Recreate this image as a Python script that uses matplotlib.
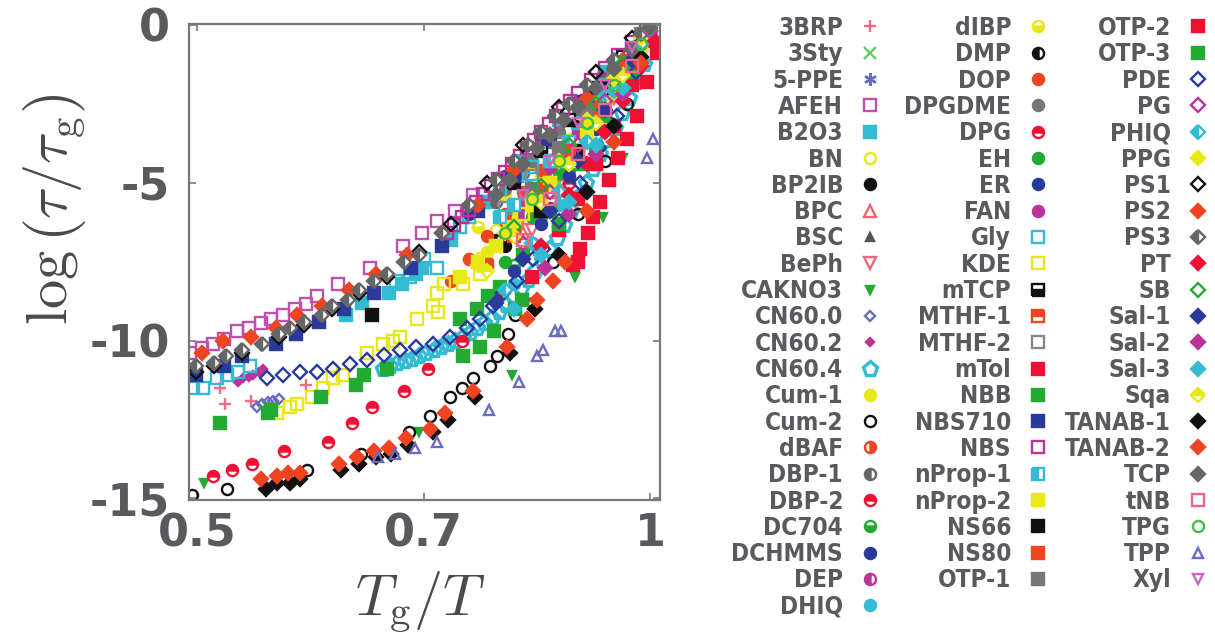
import matplotlib
matplotlib.use("Agg")
import matplotlib.pyplot as plt

plt.rcParams['mathtext.fontset'] = 'cm'

GRAY = '#595a5e'
LEGEND_FONT = ['Liberation Sans Narrow', 'DejaVu Sans']
TICK_FONT = ['DejaVu Sans']

names = [
    '3BRP', '3Sty', '5-PPE', 'AFEH', 'B2O3', 'BN', 'BP2IB', 'BPC', 'BSC',
    'BePh', 'CAKNO3', 'CN60.0', 'CN60.2', 'CN60.4', 'Cum-1', 'Cum-2', 'dBAF',
    'DBP-1', 'DBP-2', 'DC704', 'DCHMMS', 'DEP', 'DHIQ',
    'dIBP', 'DMP', 'DOP', 'DPGDME', 'DPG', 'EH', 'ER', 'FAN', 'Gly', 'KDE',
    'mTCP', 'MTHF-1', 'MTHF-2', 'mTol', 'NBB', 'NBS710', 'NBS', 'nProp-1',
    'nProp-2', 'NS66', 'NS80', 'OTP-1',
    'OTP-2', 'OTP-3', 'PDE', 'PG', 'PHIQ', 'PPG', 'PS1', 'PS2', 'PS3', 'PT',
    'SB', 'Sal-1', 'Sal-2', 'Sal-3', 'Sqa', 'TANAB-1', 'TANAB-2', 'TCP', 'tNB',
    'TPG', 'TPP', 'Xyl',
]

# Tg/T values
x_vals = {
    '3BRP': [0.525, 0.531, 0.56, 0.62, 0.86, 0.9, 0.94, 0.97, 1.0],
    '3Sty': [0.9, 0.93, 0.96, 0.985, 1.008],
    '5-PPE': [0.88, 0.91, 0.94, 0.97, 1.0],
    'AFEH': [0.492, 0.505, 0.518, 0.53, 0.544, 0.557, 0.57, 0.582, 0.595,
             0.608, 0.62, 0.632, 0.655, 0.691, 0.727, 0.748, 0.765, 0.785,
             0.805],
    'B2O3': [0.664, 0.682, 0.712, 0.726, 0.742, 0.748, 0.78, 0.82, 0.86,
             0.9, 0.95, 1.0],
    'BN': [0.8, 0.83, 0.86, 0.89, 0.92, 0.95, 0.98, 1.0],
    'BP2IB': [0.84, 0.87, 0.9, 0.93, 0.96, 0.99],
    'BPC': [0.86, 0.89, 0.92, 0.95, 0.98, 1.0],
    'BSC': [0.85, 0.88, 0.91, 0.94, 0.97, 1.0],
    'BePh': [0.87, 0.9, 0.93, 0.96, 0.99],
    'CAKNO3': [0.508, 0.745, 0.848, 0.917, 0.948, 0.97, 0.99],
    'CN60.0': [0.566, 0.572, 0.578, 0.584, 0.59],
    'CN60.2': [0.545, 0.551, 0.557, 0.562, 0.568, 0.573],
    'CN60.4': [0.705, 0.713, 0.721, 0.729, 0.737, 0.745, 0.753, 0.761, 0.769,
               0.777, 0.785, 0.793, 0.801, 0.809, 0.817, 0.825, 0.833, 0.841,
               0.849, 0.857, 0.865, 0.873, 0.881, 0.889, 0.897, 0.905, 0.913,
               0.921, 0.929, 0.937, 0.945, 0.953, 0.961, 0.969, 0.977, 0.985,
               0.993],
    'Cum-1': [0.82, 0.85, 0.88, 0.91, 0.94, 0.97, 1.0],
    'Cum-2': [0.494, 0.533, 0.621, 0.681, 0.734, 0.757, 0.779, 0.792, 0.805,
              0.823, 0.831, 0.843, 0.851, 0.871, 0.893, 0.92, 0.95, 0.975,
              1.0],
    'dBAF': [0.84, 0.87, 0.9, 0.93, 0.96, 0.99],
    'DBP-1': [0.83, 0.86, 0.89, 0.92, 0.95, 0.98],
    'DBP-2': [0.86, 0.89, 0.92, 0.95, 0.98],
    'DC704': [0.85, 0.88, 0.91, 0.94, 0.97, 1.0],
    'DCHMMS': [0.8, 0.84, 0.88, 0.92, 0.96, 1.0],
    'DEP': [0.86, 0.89, 0.92, 0.95, 0.98],
    'DHIQ': [0.85, 0.875, 0.9, 0.925, 0.95, 0.975, 1.0],
    'dIBP': [0.81, 0.84, 0.87, 0.9, 0.93, 0.96, 0.99],
    'DMP': [0.83, 0.86, 0.89, 0.92, 0.95, 0.98],
    'DOP': [0.78, 0.8, 0.82, 0.84, 0.86, 0.88, 0.9, 0.93, 0.96, 0.99],
    'DPGDME': [0.84, 0.87, 0.9, 0.93, 0.96, 0.99],
    'DPG': [0.517, 0.539, 0.561, 0.596, 0.645, 0.671, 0.693, 0.728, 0.755,
            0.792, 0.83, 0.87, 0.91, 0.95, 0.99],
    'EH': [0.84, 0.87, 0.9, 0.93, 0.96, 0.99],
    'ER': [0.85, 0.88, 0.91, 0.94, 0.97, 1.0],
    'FAN': [0.86, 0.89, 0.92, 0.95, 0.98],
    'Gly': [0.495, 0.507, 0.522, 0.533, 0.545, 0.558, 0.72, 0.735, 0.75,
            0.765, 0.78, 0.79, 0.8, 0.816, 0.834, 0.853, 0.87, 0.89, 0.92,
            0.95, 0.98],
    'KDE': [0.588, 0.603, 0.61, 0.627, 0.639, 0.65, 0.661, 0.688, 0.705,
            0.716, 0.724, 0.743, 0.76, 0.765, 0.766, 0.772, 0.794, 0.812,
            0.816, 0.83, 0.845, 0.86, 0.875, 0.89, 0.92, 0.95, 0.98],
    'mTCP': [0.85, 0.88, 0.91, 0.94, 0.97, 1.0],
    'MTHF-1': [0.82, 0.85, 0.88, 0.91, 0.94, 0.97],
    'MTHF-2': [0.84, 0.87, 0.9, 0.93, 0.96, 0.99],
    'mTol': [0.87, 0.9, 0.92, 0.94, 0.96, 0.98, 1.0],
    'NBB': [0.525, 0.578, 0.582, 0.637, 0.675, 0.684, 0.71, 0.79, 0.809,
            0.821, 0.834, 0.86, 0.89, 0.92, 0.95, 0.98],
    'NBS710': [0.499, 0.53, 0.55, 0.587, 0.609, 0.635, 0.662, 0.695, 0.736,
               0.77, 0.81, 0.85, 0.89, 0.93, 0.97, 1.0],
    'NBS': [0.776, 0.784, 0.792, 0.8, 0.808, 0.816, 0.824, 0.832, 0.84,
            0.848, 0.856, 0.864, 0.872, 0.88, 0.888, 0.896, 0.904, 0.912,
            0.92, 0.935, 0.95, 0.965, 0.98, 0.995],
    'nProp-1': [0.834, 0.85, 0.87, 0.89, 0.91, 0.93, 0.95, 0.97, 0.99],
    'nProp-2': [0.79, 0.81, 0.83, 0.85, 0.87, 0.89, 0.91, 0.93, 0.96, 0.99],
    'NS66': [0.693, 0.88, 0.92, 0.96, 1.0],
    'NS80': [0.85, 0.88, 0.91, 0.94, 0.97, 1.0],
    'OTP-1': [0.87, 0.9, 0.93, 0.96, 0.99],
    'OTP-2': [0.915, 0.92, 0.923, 0.932, 0.937, 0.945, 0.955, 0.965, 0.975,
              0.986, 0.997, 1.008],
    'OTP-3': [0.794, 0.812, 0.828, 0.851, 0.859, 0.9, 0.94, 0.98],
    'PDE': [0.577, 0.595, 0.614, 0.632, 0.65, 0.669, 0.688, 0.706, 0.724,
            0.742, 0.76, 0.779, 0.798, 0.812, 0.827, 0.838, 0.853, 0.871,
            0.882, 0.9, 0.923, 0.944, 0.964, 0.985, 1.0],
    'PG': [0.86, 0.89, 0.92, 0.95, 0.98],
    'PHIQ': [0.84, 0.87, 0.9, 0.93, 0.96, 0.99],
    'PPG': [0.81, 0.84, 0.87, 0.9, 0.93, 0.96, 0.99],
    'PS1': [0.499, 0.519, 0.55, 0.59, 0.618, 0.649, 0.679, 0.71, 0.745,
            0.78, 0.82, 0.86, 0.9, 0.94, 0.98],
    'PS2': [0.505, 0.528, 0.56, 0.587, 0.61, 0.638, 0.668, 0.698, 0.732,
            0.77, 0.81, 0.85, 0.89, 0.93, 0.97],
    'PS3': [0.499, 0.519, 0.532, 0.55, 0.572, 0.59, 0.602, 0.618, 0.638,
            0.649, 0.666, 0.679, 0.695, 0.71, 0.728, 0.745, 0.77, 0.8, 0.83,
            0.85, 0.865, 0.88, 0.895, 0.91, 0.93, 0.96, 0.99],
    'PT': [0.88, 0.91, 0.93, 0.95, 0.97, 0.99, 1.005],
    'SB': [0.85, 0.88, 0.91, 0.94, 0.97, 1.0],
    'Sal-1': [0.83, 0.86, 0.89, 0.92, 0.95, 0.98],
    'Sal-2': [0.884, 0.91, 0.94, 0.97, 1.0],
    'Sal-3': [0.85, 0.88, 0.91, 0.94, 0.97, 1.0],
    'Sqa': [0.82, 0.85, 0.88, 0.91, 0.94, 0.97, 1.0],
    'TANAB-1': [0.576, 0.588, 0.602, 0.614, 0.659, 0.679, 0.697, 0.714,
                0.733, 0.76, 0.777, 0.807, 0.845, 0.873, 0.9, 0.93, 0.96,
                0.99],
    'TANAB-2': [0.571, 0.588, 0.6, 0.613, 0.657, 0.677, 0.695, 0.712, 0.731,
                0.757, 0.774, 0.804, 0.842, 0.864, 0.875, 0.893, 0.906, 0.93,
                0.96, 0.99],
    'TCP': [0.83, 0.845, 0.86, 0.875, 0.89, 0.905, 0.92, 0.94, 0.96, 0.98,
            1.0],
    'tNB': [0.86, 0.89, 0.92, 0.95, 0.98],
    'TPG': [0.84, 0.87, 0.9, 0.93, 0.96, 0.99],
    'TPP': [0.7, 0.718, 0.741, 0.765, 0.822, 0.855, 0.875, 0.882, 0.895,
            0.902, 0.997, 1.003],
    'Xyl': [0.86, 0.89, 0.92, 0.95, 0.98],
}

# log(tau/tau_g) values
y_vals = {
    '3BRP': [-11.5, -12.0, -11.9, -11.4, -6.3, -4.4, -2.6, -1.4, 0.0],
    '3Sty': [-5.0, -3.6, -2.2, -1.0, -0.5],
    '5-PPE': [-5.6, -4.1, -2.8, -1.5, 0.0],
    'AFEH': [-10.4, -10.25, -10.1, -9.95, -9.7, -9.6, -9.45, -9.3, -9.2,
             -9.0, -8.85, -8.6, -8.2, -7.7, -7.0, -6.6, -6.2, -5.9, -5.4],
    'B2O3': [-9.2, -8.8, -8.5, -8.2, -7.9, -7.7, -6.8, -5.6, -4.3, -3.0,
             -1.5, 0.0],
    'BN': [-7.4, -6.5, -5.5, -4.5, -3.4, -2.3, -1.1, 0.0],
    'BP2IB': [-7.0, -5.8, -4.5, -3.2, -1.9, -0.6],
    'BPC': [-6.6, -5.3, -4.0, -2.6, -1.2, 0.0],
    'BSC': [-6.1, -4.9, -3.7, -2.5, -1.3, 0.0],
    'BePh': [-6.5, -5.1, -3.7, -2.3, -0.8],
    'CAKNO3': [-14.5, -12.9, -11.1, -8.0, -6.1, -4.2, -1.8],
    'CN60.0': [-12.1, -12.0, -11.95, -11.9, -11.85],
    'CN60.2': [-11.3, -11.2, -11.15, -11.1, -11.0, -10.9],
    'CN60.4': [-10.9, -10.8, -10.72, -10.65, -10.57, -10.48, -10.4, -10.3,
               -10.2, -10.1, -10.0, -9.88, -9.75, -9.6, -9.45, -9.28, -9.1,
               -8.88, -8.6, -8.35, -8.08, -7.8, -7.45, -7.1, -6.75, -6.35,
               -5.9, -5.45, -5.0, -4.55, -4.1, -3.65, -3.25, -2.8, -2.3, -1.8,
               -1.25],
    'Cum-1': [-7.2, -6.0, -4.8, -3.6, -2.4, -1.2, 0.0],
    'Cum-2': [-14.9, -14.7, -14.1, -13.6, -12.9, -12.4, -11.8, -11.5, -11.2,
              -10.8, -10.5, -9.8, -9.2, -8.8, -7.5, -6.0, -4.3, -2.5, -0.3],
    'dBAF': [-6.2, -5.2, -4.0, -2.9, -1.7, -0.5],
    'DBP-1': [-5.6, -4.7, -3.7, -2.7, -1.7, -0.7],
    'DBP-2': [-7.3, -5.8, -4.3, -2.8, -1.3],
    'DC704': [-7.6, -6.1, -4.6, -3.2, -1.7, -0.1],
    'DCHMMS': [-6.0, -4.8, -3.6, -2.4, -1.2, 0.0],
    'DEP': [-6.0, -4.7, -3.4, -2.1, -0.9],
    'DHIQ': [-8.2, -7.0, -5.7, -4.4, -3.0, -1.5, 0.0],
    'dIBP': [-6.4, -5.4, -4.4, -3.4, -2.4, -1.4, -0.4],
    'DMP': [-6.8, -5.6, -4.4, -3.2, -2.0, -0.8],
    'DOP': [-8.1, -7.4, -6.7, -6.0, -5.3, -4.6, -3.9, -2.9, -1.8, -0.6],
    'DPGDME': [-5.2, -4.3, -3.4, -2.4, -1.5, -0.5],
    'DPG': [-14.3, -14.1, -13.9, -13.5, -13.2, -12.6, -12.1, -11.6, -10.9,
            -10.0, -8.6, -6.9, -5.0, -3.0, -0.8],
    'EH': [-7.5, -6.1, -4.7, -3.3, -2.0, -0.6],
    'ER': [-7.8, -6.3, -4.8, -3.3, -1.7, -0.1],
    'FAN': [-5.7, -4.5, -3.3, -2.1, -0.9],
    'Gly': [-11.5, -11.5, -11.2, -11.1, -11.0, -10.8, -8.1, -8.0, -7.4,
            -7.7, -6.6, -6.4, -6.1, -5.6, -5.2, -4.8, -4.5, -4.3, -3.1, -1.9,
            -0.8],
    'KDE': [-12.3, -12.1, -12.0, -11.8, -11.5, -11.2, -11.1, -10.4, -10.1,
            -10.0, -9.9, -9.3, -8.9, -8.5, -9.1, -8.2, -8.2, -7.9, -7.4, -7.0,
            -6.5, -6.0, -5.5, -5.0, -3.8, -2.5, -1.1],
    'mTCP': [-5.0, -4.0, -3.0, -2.0, -1.0, 0.0],
    'MTHF-1': [-7.6, -6.4, -5.2, -3.9, -2.6, -1.3],
    'MTHF-2': [-5.8, -4.8, -3.7, -2.6, -1.5, -0.4],
    'mTol': [-8.0, -6.5, -5.5, -4.4, -3.2, -1.9, -0.5],
    'NBB': [-12.6, -12.3, -12.2, -11.8, -11.4, -11.1, -10.9, -9.3, -9.0,
            -8.6, -8.3, -7.3, -5.9, -4.4, -2.9, -1.3],
    'NBS710': [-11.1, -10.8, -10.5, -10.1, -9.8, -9.4, -9.0, -8.5, -7.7,
               -7.0, -5.9, -4.8, -3.6, -2.4, -1.2, -0.1],
    'NBS': [-6.6, -6.35, -6.1, -5.85, -5.6, -5.35, -5.1, -4.88, -4.65, -4.4,
            -4.15, -3.9, -3.65, -3.4, -3.15, -2.9, -2.65, -2.4, -2.15, -1.75,
            -1.35, -0.95, -0.55, -0.15],
    'nProp-1': [-6.1, -5.7, -5.1, -4.3, -3.7, -3.0, -2.2, -1.4, -0.5],
    'nProp-2': [-8.0, -7.5, -7.0, -6.4, -5.7, -5.0, -4.3, -3.5, -2.2, -0.7],
    'NS66': [-9.2, -5.9, -4.0, -2.0, 0.0],
    'NS80': [-6.7, -5.3, -4.0, -2.7, -1.3, 0.0],
    'OTP-1': [-5.2, -3.9, -2.7, -1.5, -0.3],
    'OTP-2': [-7.6, -7.5, -7.1, -6.6, -6.1, -5.6, -4.9, -4.2, -3.6, -2.9,
              -1.8, -0.9],
    'OTP-3': [-10.5, -10.2, -9.7, -9.0, -8.7, -6.3, -3.9, -1.5],
    'PDE': [-11.2, -11.1, -11.0, -11.0, -10.9, -10.75, -10.6, -10.45, -10.3,
            -10.2, -10.1, -9.9, -9.6, -9.3, -8.9, -8.5, -8.1, -7.4, -7.1,
            -6.2, -5.0, -3.9, -2.9, -1.5, -0.2],
    'PG': [-6.9, -5.3, -3.8, -2.4, -1.0],
    'PHIQ': [-8.4, -6.9, -5.3, -3.7, -2.1, -0.6],
    'PPG': [-7.6, -6.6, -5.5, -4.3, -3.0, -1.7, -0.4],
    'PS1': [-11.0, -10.8, -10.4, -9.9, -9.5, -9.0, -8.5, -8.0, -7.2, -6.3,
            -5.0, -3.8, -2.6, -1.5, -0.4],
    'PS2': [-10.4, -10.0, -9.9, -9.6, -9.2, -8.9, -8.4, -7.9, -7.3, -6.6,
            -5.7, -4.6, -3.5, -2.3, -1.1],
    'PS3': [-10.8, -10.7, -10.5, -10.3, -10.1, -9.8, -9.6, -9.4, -9.2, -8.9,
            -8.7, -8.4, -8.1, -7.9, -7.5, -7.3, -6.6, -5.7, -4.9, -4.3, -3.8,
            -3.4, -2.9, -2.5, -1.9, -1.1, -0.3],
    'PT': [-7.0, -5.4, -4.4, -3.4, -2.4, -1.3, -0.5],
    'SB': [-6.4, -5.1, -3.8, -2.5, -1.2, 0.0],
    'Sal-1': [-8.8, -7.4, -5.9, -4.3, -2.7, -1.1],
    'Sal-2': [-7.7, -6.0, -4.1, -2.2, -0.2],
    'Sal-3': [-9.0, -7.3, -5.6, -3.8, -2.0, -0.1],
    'Sqa': [-7.8, -6.7, -5.6, -4.4, -3.1, -1.6, -0.1],
    'TANAB-1': [-14.7, -14.5, -14.5, -14.4, -14.1, -13.9, -13.7, -13.6,
                -13.3, -12.9, -12.5, -11.8, -10.4, -9.0, -7.3, -5.3, -3.2,
                -1.0],
    'TANAB-2': [-14.4, -14.3, -14.2, -14.2, -13.9, -13.7, -13.5, -13.4,
                -13.1, -12.8, -12.3, -11.6, -10.2, -9.3, -8.7, -8.1, -7.5,
                -5.9, -3.7, -1.2],
    'TCP': [-5.4, -4.9, -4.4, -3.9, -3.5, -3.0, -2.6, -2.0, -1.4, -0.8, -0.1],
    'tNB': [-6.8, -5.5, -4.1, -2.7, -1.3],
    'TPG': [-6.6, -5.5, -4.3, -3.1, -1.9, -0.6],
    'TPP': [-13.7, -13.6, -13.4, -13.2, -12.2, -11.3, -10.5, -10.3, -9.7,
            -9.7, -4.2, -3.6],
    'Xyl': [-5.4, -4.3, -3.1, -1.9, -0.7],
}

x_ticks = [0.5, 0.75, 1.0]
x_tick_labels = ['0.5', '0.7', '1']
y_ticks = [0, -5, -10, -15]
y_tick_labels = ['0', '-5', '-10', '-15']

# marker, colour, fillstyle, size
PINK = '#ee6e8a'
YEL = '#e8e818'
CYAN = '#33bbd4'
MAG = '#bb3399'
GRN = '#22aa33'
BLUE = '#2a3a9a'
VIOL = '#6b6bbf'
RED = '#ee1133'
ORNG = '#ee4422'
GREY = '#666666'
BLK = '#111111'
styles = {
    '3BRP': ('+', PINK, 'full', 8), '3Sty': ('x', '#66cc66', 'full', 8),
    '5-PPE': ((6, 2, 0), VIOL, 'full', 9), 'AFEH': ('s', '#c050b0', 'none', 8),
    'B2O3': ('s', CYAN, 'full', 8), 'BN': ('o', YEL, 'none', 8),
    'BP2IB': ('o', BLK, 'full', 8), 'BPC': ('^', '#ee6666', 'none', 8),
    'BSC': ('^', '#555555', 'full', 6), 'BePh': ('v', '#ee6677', 'none', 8),
    'CAKNO3': ('v', GRN, 'full', 5.5), 'CN60.0': ('D', VIOL, 'none', 5),
    'CN60.2': ('D', MAG, 'full', 4.5), 'CN60.4': ('p', CYAN, 'none', 11),
    'Cum-1': ('o', YEL, 'full', 8), 'Cum-2': ('o', BLK, 'none', 8),
    'dBAF': ('o', ORNG, 'right', 8), 'DBP-1': ('o', GREY, 'left', 8),
    'DBP-2': ('o', RED, 'top', 8), 'DC704': ('o', GRN, 'bottom', 8),
    'DCHMMS': ('o', BLUE, 'full', 8), 'DEP': ('o', MAG, 'left', 8),
    'DHIQ': ('o', CYAN, 'full', 8), 'dIBP': ('o', YEL, 'bottom', 8),
    'DMP': ('o', BLK, 'left', 8), 'DOP': ('o', ORNG, 'full', 8),
    'DPGDME': ('o', '#777777', 'full', 8), 'DPG': ('o', RED, 'top', 8),
    'EH': ('o', GRN, 'full', 8), 'ER': ('o', BLUE, 'full', 8),
    'FAN': ('o', MAG, 'full', 8), 'Gly': ('s', CYAN, 'none', 8),
    'KDE': ('s', YEL, 'none', 8), 'mTCP': ('s', BLK, 'bottom', 8),
    'MTHF-1': ('s', ORNG, 'top', 8), 'MTHF-2': ('s', '#888888', 'none', 8),
    'mTol': ('s', RED, 'full', 8), 'NBB': ('s', GRN, 'full', 8),
    'NBS710': ('s', BLUE, 'full', 8), 'NBS': ('s', MAG, 'none', 8),
    'nProp-1': ('s', CYAN, 'left', 8), 'nProp-2': ('s', YEL, 'full', 8),
    'NS66': ('s', BLK, 'full', 8), 'NS80': ('s', ORNG, 'full', 8),
    'OTP-1': ('s', '#777777', 'full', 8), 'OTP-2': ('s', RED, 'full', 8),
    'OTP-3': ('s', GRN, 'full', 8), 'PDE': ('D', BLUE, 'none', 7.5),
    'PG': ('D', MAG, 'none', 7.5), 'PHIQ': ('D', CYAN, 'left', 7.5),
    'PPG': ('D', YEL, 'full', 7.5), 'PS1': ('D', BLK, 'none', 7.5),
    'PS2': ('D', ORNG, 'full', 7.5), 'PS3': ('D', GREY, 'left', 7.5),
    'PT': ('D', RED, 'full', 7.5), 'SB': ('D', GRN, 'none', 7.5),
    'Sal-1': ('D', BLUE, 'full', 7.5), 'Sal-2': ('D', MAG, 'full', 7.5),
    'Sal-3': ('D', CYAN, 'full', 7.5), 'Sqa': ('D', YEL, 'top', 7.5),
    'TANAB-1': ('D', BLK, 'full', 7.5), 'TANAB-2': ('D', ORNG, 'full', 7.5),
    'TCP': ('D', GREY, 'full', 7.5), 'tNB': ('s', '#ee6688', 'none', 8),
    'TPG': ('o', '#44bb44', 'none', 8), 'TPP': ('^', VIOL, 'none', 7.5),
    'Xyl': ('v', '#cc66bb', 'none', 7.5),
}

W, H = 1215, 643
fig = plt.figure(figsize=(W / 100, H / 100), dpi=100)
ax = fig.add_axes([189 / W, 1 - 500 / H, 471 / W, 476 / H])

handles = {}
for name in names:
    marker, color, fill, ms = styles[name]
    mew = 2.4 if name == 'CN60.4' else 1.7
    line, = ax.plot(x_vals[name], y_vals[name], ls='none', marker=marker,
                    color=color, mec=color, fillstyle=fill,
                    markerfacecoloralt='white', ms=ms, mew=mew, label=name)
    handles[name] = line

ax.set_xlim(0.491, 1.011)
ax.set_ylim(-15.05, 0.03)
ax.set_xticks(x_ticks, x_tick_labels)
ax.set_yticks(y_ticks, y_tick_labels)
for lab in ax.get_xticklabels() + ax.get_yticklabels():
    lab.set_family(TICK_FONT)
    lab.set_fontweight('heavy')
    lab.set_fontsize(32)
    lab.set_color(GRAY)
ax.tick_params(axis='both', direction='in', length=5, width=1.2,
               color='#777777', top=True, right=True)
ax.tick_params(axis='y', pad=14)
ax.tick_params(axis='x', pad=9)
for sp in ax.spines.values():
    sp.set_color('#777777')
    sp.set_linewidth(1.6)

ax.set_ylabel(r'$\log\left(\tau/\tau_{\mathrm{g}}\right)$', fontsize=42,
              color='#4a4a4a')
ax.yaxis.set_label_coords(-0.215, 0.61)
ax.set_xlabel(r'$T_{\mathrm{g}}/T$', fontsize=42, color='#4a4a4a')
ax.xaxis.set_label_coords(0.49, -0.145)

# three legend columns, marker on the right of each right-aligned label
columns = [names[:23], names[23:45], names[45:]]
anchors = [882, 1050, 1210]
for col, ax_x in zip(columns, anchors):
    fig.legend([handles[n] for n in col], col, loc='upper right',
               bbox_to_anchor=(ax_x / W, 1 - 16 / H), markerfirst=False,
               frameon=False, borderpad=0, borderaxespad=0,
               handlelength=1.0, handletextpad=0.6, labelspacing=0.095,
               prop=dict(family=LEGEND_FONT, weight='bold', size=17.5,
                         stretch='condensed'),
               labelcolor=GRAY)

fig.savefig('out.png', dpi=100)
